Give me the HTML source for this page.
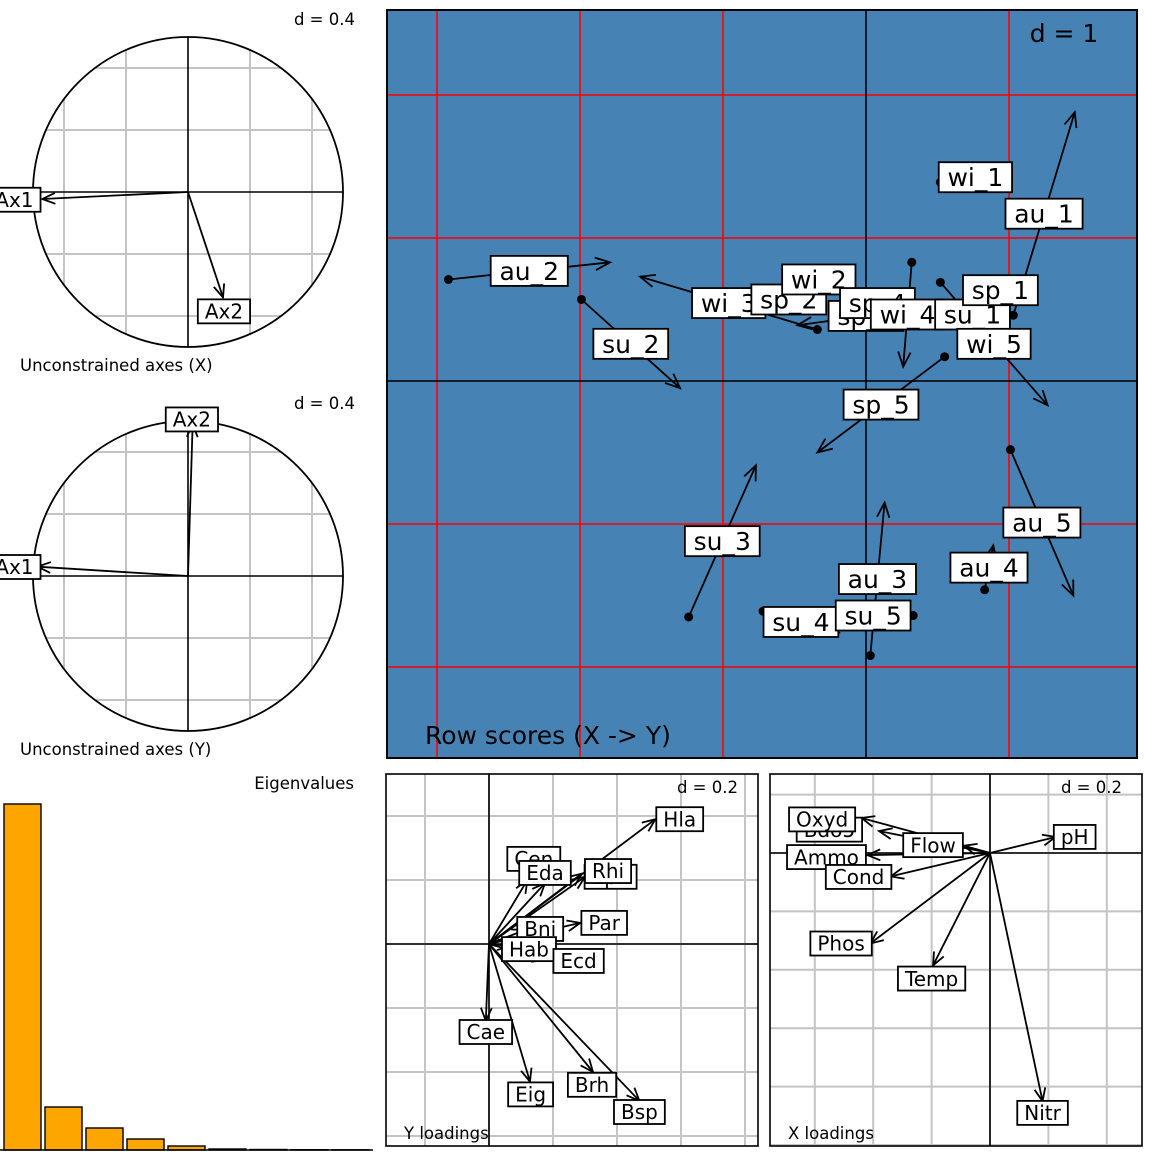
<!DOCTYPE html>
<html><head><meta charset="utf-8"><style>
html,body{margin:0;padding:0;background:#fff}
svg{display:block;font-family:"DejaVu Sans","Liberation Sans",sans-serif}
</style></head><body>
<svg id="s" width="1152" height="1152" viewBox="0 0 1152 1152" xmlns="http://www.w3.org/2000/svg">
<defs>
<clipPath id="c1"><circle cx="188" cy="192" r="155"/></clipPath>
<clipPath id="c2"><circle cx="188" cy="576" r="155"/></clipPath>
<clipPath id="cr"><rect x="387" y="10" width="750" height="748"/></clipPath>
<clipPath id="cy"><rect x="386" y="774" width="372" height="372"/></clipPath>
<clipPath id="cx"><rect x="770" y="774" width="372" height="372"/></clipPath>
</defs>
</svg>
<script>
// ---- Row scores data (units, d = 1) ----
const rowNames=["au_2","su_2","wi_3","sp_2","wi_2","sp_3","sp_4","wi_4","su_1","sp_1","wi_1","au_1","wi_5","sp_5","su_3","au_5","au_4","au_3","su_4","su_5"];
const rowX1=[-2.92,-1.99,-0.34,-0.57,-0.36,0.48,0.06,0.32,0.94,0.87,0.52,1.03,0.52,0.55,-1.24,1.01,0.83,0.03,-0.72,0.33];
const rowY1=[0.71,0.57,0.36,0.59,0.73,0.52,0.57,0.83,0.43,0.65,1.39,0.46,0.69,0.17,-1.65,-0.48,-1.46,-1.92,-1.61,-1.64];
const rowX2=[-1.79,-1.30,-1.58,-0.51,-0.30,-0.48,0.10,0.26,0.55,1.01,1.01,1.46,1.27,-0.34,-0.77,1.45,0.89,0.13,-0.19,-0.23];
const rowY2=[0.83,-0.05,0.73,0.55,0.69,0.39,0.52,0.10,0.50,0.62,1.46,1.88,-0.17,-0.50,-0.59,-1.50,-1.15,-0.85,-1.76,-1.64];
// ---- Y loadings ----
const yNames=["Hla","Cen","Eda","Eph","Rhi","Par","Bni","Hab","Ecd","Cae","Eig","Brh","Bsp"];
const yTipX=[0.52,0.12,0.175,0.30,0.29,0.285,0.113,0.066,0.175,-0.01,0.128,0.325,0.47];
const yTipY=[0.39,0.20,0.19,0.21,0.22,0.066,0.044,-0.006,-0.05,-0.24,-0.43,-0.40,-0.49];
const yLabX=[0.596,0.14,0.175,0.38,0.372,0.36,0.16,0.125,0.28,-0.01,0.13,0.322,0.47];
const yLabY=[0.39,0.266,0.222,0.21,0.228,0.066,0.047,-0.016,-0.053,-0.275,-0.47,-0.44,-0.525];
// ---- X loadings ----
const xNames=["Bdo5","Oxyd","Flow","Ammo","Cond","Phos","Temp","Nitr","pH"];
const xTipX=[-0.38,-0.44,-0.09,-0.42,-0.34,-0.41,-0.195,0.18,0.225];
const xTipY=[0.075,0.12,0.025,-0.007,-0.08,-0.31,-0.385,-0.85,0.055];
const xLabX=[-0.55,-0.575,-0.195,-0.56,-0.45,-0.51,-0.20,0.18,0.29];
const xLabY=[0.08,0.115,0.027,-0.014,-0.082,-0.31,-0.43,-0.89,0.055];
// ---- Unconstrained axes ----
const axNames=["Ax1","Ax2"];
const axXTipX=[-0.94,0.226], axXTipY=[-0.045,-0.68], axXLabX=[-1.12,0.232], axXLabY=[-0.05,-0.77];
const axYTipX=[-0.97,0.03], axYTipY=[0.06,0.98], axYLabX=[-1.12,0.025], axYLabY=[0.058,1.01];
// ---- Eigenvalues ----
const eigVals=[346,43,22,11,4,1,0.5,0.3,0.2];

const S=document.getElementById('s');const NS="http://www.w3.org/2000/svg";
function mk(tag,at,parent){const e=document.createElementNS(NS,tag);for(const k in at)e.setAttribute(k,at[k]);(parent||S).appendChild(e);return e;}
function grp(name,clip){const g=mk('g',clip?{'clip-path':'url(#'+clip+')'}:{});return g;}
function txt(g,x,y,s,size,anchor,fill){const t=mk('text',{x:x,y:y,'font-size':size,'text-anchor':anchor||'start',fill:fill||'#000'},g);t.textContent=s;return t;}
function arrow(g,x0,y0,x1,y1,hl){mk('line',{x1:x0,y1:y0,x2:x1,y2:y1,stroke:'#000','stroke-width':1.8},g);const a=Math.atan2(y1-y0,x1-x0),h=hl||13,w=0.4;
 mk('polyline',{points:(x1-h*Math.cos(a-w))+','+(y1-h*Math.sin(a-w))+' '+x1+','+y1+' '+(x1-h*Math.cos(a+w))+','+(y1-h*Math.sin(a+w)),fill:'none',stroke:'#000','stroke-width':1.8},g);}
function label(g,x,y,s,size,name){const lg=mk('g',{},g);
 const r=mk('rect',{},lg);const t=txt(lg,x,y+size*0.36,s,size,'middle');
 let tw=s.length*size*0.62;try{tw=t.getComputedTextLength()||tw;}catch(e){}
 const w=tw+size*0.7,h=size*1.2;
 r.setAttribute('x',x-w/2);r.setAttribute('y',y-h/2);r.setAttribute('width',w);r.setAttribute('height',h);
 r.setAttribute('fill','#fff');r.setAttribute('stroke','#000');r.setAttribute('stroke-width',1.8);}

// ===== Row scores panel =====
(function(){const ox=866,oy=381,u=143;const sx=v=>ox+v*u,sy=v=>oy-v*u;
 const g=grp('row-scores-panel','cr');
 mk('rect',{x:387,y:10,width:750,height:748,fill:'#4682B4'},g);
 for(let k=-3;k<=2;k++){if(k==0)continue;mk('line',{x1:sx(k),y1:10,x2:sx(k),y2:758,stroke:'#f00','stroke-width':1.6},g);}
 for(let k=-2;k<=2;k++){if(k==0)continue;mk('line',{x1:387,y1:sy(k),x2:1137,y2:sy(k),stroke:'#f00','stroke-width':1.6},g);}
 mk('line',{x1:sx(0),y1:10,x2:sx(0),y2:758,stroke:'#000','stroke-width':1.6},g);
 mk('line',{x1:387,y1:sy(0),x2:1137,y2:sy(0),stroke:'#000','stroke-width':1.6},g);
 for(let i=0;i<rowNames.length;i++){mk('circle',{cx:sx(rowX1[i]),cy:sy(rowY1[i]),r:4.5,fill:'#000'},g);arrow(g,sx(rowX1[i]),sy(rowY1[i]),sx(rowX2[i]),sy(rowY2[i]),16);}
 for(let i=0;i<rowNames.length;i++){label(g,sx((rowX1[i]+rowX2[i])/2),sy((rowY1[i]+rowY2[i])/2),rowNames[i],25,'row-label-'+rowNames[i]);}
 mk('rect',{x:387,y:10,width:750,height:748,fill:'none',stroke:'#000','stroke-width':2},S);
 const d=txt(S,1064,42,'d = 1',25,'middle');
 const t=txt(S,425,744,'Row scores (X -> Y)',25);
})();

// ===== Loadings panels =====
function loadPanel(name,clip,bx,by,ox,oy,u,names,tx,ty,lx,ly,title){
 const sx=v=>ox+v*u,sy=v=>oy-v*u;const g=grp(name,clip);const st=0.2*u;
 for(let x=ox%st;x<bx+372;x+=st){if(x<bx)continue;mk('line',{x1:x,y1:by,x2:x,y2:by+372,stroke:'#c4c4c4','stroke-width':2},g);}
 for(let y=oy%st;y<by+372;y+=st){if(y<by)continue;mk('line',{x1:bx,y1:y,x2:bx+372,y2:y,stroke:'#c4c4c4','stroke-width':2},g);}
 mk('line',{x1:ox,y1:by,x2:ox,y2:by+372,stroke:'#000','stroke-width':1.6},g);
 mk('line',{x1:bx,y1:oy,x2:bx+372,y2:oy,stroke:'#000','stroke-width':1.6},g);
 for(let i=0;i<names.length;i++)arrow(g,ox,oy,sx(tx[i]),sy(ty[i]),14);
 for(let i=0;i<names.length;i++)label(g,sx(lx[i]),sy(ly[i]),names[i],20,name+'-label-'+names[i]);
 txt(g,bx+18,by+365,title,16.5);txt(g,bx+352,by+19,'d = 0.2',16.5,'end');
 mk('rect',{x:bx,y:by,width:372,height:372,fill:'none',stroke:'#000','stroke-width':1.6},S);}
loadPanel('y-loadings-panel','cy',386,774,489,944,320,yNames,yTipX,yTipY,yLabX,yLabY,'Y loadings');
loadPanel('x-loadings-panel','cx',770,774,990,853,292,xNames,xTipX,xTipY,xLabX,xLabY,'X loadings');

// ===== Circle panels =====
function circPanel(name,clip,cx,cy,tx,ty,lx,ly,title,dy){
 const r=155,sx=v=>cx+v*r,sy=v=>cy-v*r;const g=grp(name);const gc=mk('g',{'clip-path':'url(#'+clip+')'},g);
 for(let k=-2;k<=2;k++){if(k==0)continue;const p=k*0.4;
  mk('line',{x1:sx(p),y1:cy-r,x2:sx(p),y2:cy+r,stroke:'#c4c4c4','stroke-width':2},gc);
  mk('line',{x1:cx-r,y1:sy(p),x2:cx+r,y2:sy(p),stroke:'#c4c4c4','stroke-width':2},gc);}
 mk('line',{x1:cx,y1:cy-r,x2:cx,y2:cy+r,stroke:'#000','stroke-width':1.6},g);
 mk('line',{x1:cx-r,y1:cy,x2:cx+r,y2:cy,stroke:'#000','stroke-width':1.6},g);
 mk('circle',{cx:cx,cy:cy,r:r,fill:'none',stroke:'#000','stroke-width':1.8},g);
 for(let i=0;i<2;i++)arrow(g,cx,cy,sx(tx[i]),sy(ty[i]),14);
 for(let i=0;i<2;i++)label(g,sx(lx[i]),sy(ly[i]),axNames[i],20,name+'-label-'+axNames[i]);
 txt(g,20,cy+179,title,16.5);txt(g,355,dy,'d = 0.4',16.5,'end');}
circPanel('unconstrained-x-panel','c1',188,192,axXTipX,axXTipY,axXLabX,axXLabY,'Unconstrained axes (X)',25);
circPanel('unconstrained-y-panel','c2',188,576,axYTipX,axYTipY,axYLabX,axYLabY,'Unconstrained axes (Y)',409);

// ===== Eigenvalues =====
(function(){const g=grp('eigenvalues-panel');const base=1150,ymax=346,hp=346;
 const sy=v=>base-v/ymax*hp;
 for(let i=0;i<eigVals.length;i++){const r=mk('rect',{x:4+i*41,y:sy(eigVals[i]),width:37,height:base-sy(eigVals[i]),fill:'#FFA500',stroke:'#000','stroke-width':1.4},g);
  }
 mk('line',{x1:0,y1:base,x2:373,y2:base,stroke:'#000','stroke-width':1.6},g);
 txt(g,354,789,'Eigenvalues',16.5,'end');})();
</script>
</body></html>
